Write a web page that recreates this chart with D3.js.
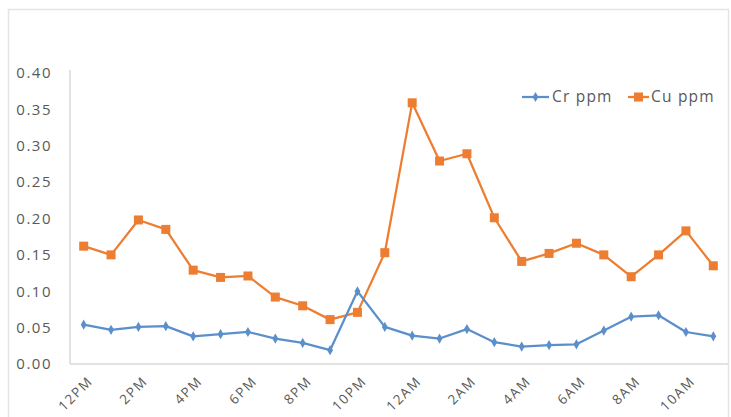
<!DOCTYPE html>
<html>
<head>
<meta charset="utf-8">
<script src="https://cdn.jsdelivr.net/npm/d3@7"></script>
<style>
  html, body { margin: 0; padding: 0; background: #fff; }
  svg { display: block; }
  .lbl { font-family: "Open Sans", sans-serif; fill: #595959; }
</style>
</head>
<body>
<svg id="chart" width="731" height="417"></svg>
<script>
// Hourly readings, noon to 11 AM next day
const hours = ["12PM","1PM","2PM","3PM","4PM","5PM","6PM","7PM","8PM","9PM","10PM","11PM",
               "12AM","1AM","2AM","3AM","4AM","5AM","6AM","7AM","8AM","9AM","10AM","11AM"];
const crPpm = [0.054,0.047,0.051,0.052,0.038,0.041,0.044,0.035,0.029,0.019,0.100,0.051,
               0.039,0.035,0.048,0.030,0.024,0.026,0.027,0.046,0.065,0.067,0.044,0.038];
const cuPpm = [0.162,0.150,0.198,0.185,0.129,0.119,0.121,0.092,0.080,0.061,0.071,0.153,
               0.359,0.279,0.289,0.201,0.141,0.152,0.166,0.150,0.120,0.150,0.183,0.135];
const yTicks = [0,0.05,0.10,0.15,0.20,0.25,0.30,0.35,0.40];
const seriesNames = ["Cr ppm","Cu ppm"];
const seriesColors = ["#5b8fcb","#ed7d31"];

const svg = d3.select("#chart");

// chart frame
svg.append("rect")
  .attr("x", 8.5).attr("y", 9.5).attr("width", 720).attr("height", 430)
  .attr("fill", "none").attr("stroke", "#e4e4e4").attr("stroke-width", 1.5);

const x = d3.scaleBand().domain(hours).range([70, 727]).padding(0);
const y = d3.scaleLinear().domain([0, 0.4]).range([364, 73]);

// axis lines
svg.append("line").attr("x1", 70).attr("x2", 70).attr("y1", 70).attr("y2", 364)
  .attr("stroke", "#d9d9d9").attr("stroke-width", 1.5);
svg.append("line").attr("x1", 70).attr("x2", 728).attr("y1", 364).attr("y2", 364)
  .attr("stroke", "#d9d9d9").attr("stroke-width", 1.5);

// y tick labels
const yAxis = svg.append("g").attr("transform", "translate(70,0)")
  .call(d3.axisLeft(y).tickValues(yTicks).tickFormat(d3.format(".2f")).tickSize(0).tickPadding(18));
yAxis.select(".domain").remove();
yAxis.selectAll("text")
  .attr("class", "lbl")
  .style("font-size", "15px")
  .style("letter-spacing", "1.5px")
  .attr("fill", "#595959");

// x tick labels, every other hour, slanted
const xAxis = svg.append("g").attr("transform", "translate(0,364)")
  .call(d3.axisBottom(x).tickValues(hours.filter((d, i) => i % 2 === 0)).tickSize(0).tickFormat(d => d));
xAxis.select(".domain").remove();
xAxis.selectAll("text")
  .attr("class", "lbl")
  .style("font-size", "13.5px")
  .style("letter-spacing", "1.6px")
  .attr("fill", "#595959")
  .attr("text-anchor", "end")
  .attr("dy", null)
  .attr("y", 0)
  .attr("transform", "translate(10,18) rotate(-45)");

const line = d3.line().x((d, i) => x(hours[i]) + x.bandwidth() / 2).y(d => y(d));

// Cu series
svg.append("path").datum(cuPpm)
  .attr("d", line).attr("fill", "none")
  .attr("stroke", seriesColors[1]).attr("stroke-width", 2.25).attr("stroke-linejoin", "round");
svg.append("g").selectAll("rect").data(cuPpm).join("rect")
  .attr("x", (d, i) => x(hours[i]) + x.bandwidth() / 2 - 4.5)
  .attr("y", d => y(d) - 4.5)
  .attr("width", 9).attr("height", 9)
  .attr("fill", seriesColors[1]);

// Cr series
svg.append("path").datum(crPpm)
  .attr("d", line).attr("fill", "none")
  .attr("stroke", seriesColors[0]).attr("stroke-width", 2.25).attr("stroke-linejoin", "round");
const diamond = d3.symbol().type(d3.symbolDiamond).size(30);
svg.append("g").selectAll("path").data(crPpm).join("path")
  .attr("d", diamond)
  .attr("transform", (d, i) => `translate(${x(hours[i]) + x.bandwidth() / 2},${y(d)})`)
  .attr("fill", seriesColors[0]);

// legend
const legend = svg.append("g");
const legendItems = [
  { name: seriesNames[0], color: seriesColors[0], x0: 522, x1: 549, tx: 552, marker: "diamond" },
  { name: seriesNames[1], color: seriesColors[1], x0: 628, x1: 649, tx: 651, marker: "square" }
];
const ly = 97;
legendItems.forEach(it => {
  legend.append("line").attr("x1", it.x0).attr("x2", it.x1).attr("y1", ly).attr("y2", ly)
    .attr("stroke", it.color).attr("stroke-width", 2.25);
  const cx = (it.x0 + it.x1) / 2;
  if (it.marker === "square") {
    legend.append("rect").attr("x", cx - 4.5).attr("y", ly - 4.5).attr("width", 9).attr("height", 9).attr("fill", it.color);
  } else {
    legend.append("path").attr("d", diamond).attr("transform", `translate(${cx},${ly})`).attr("fill", it.color);
  }
  legend.append("text").attr("class", "lbl")
    .attr("x", it.tx).attr("y", ly).attr("dy", "0.35em")
    .style("font-size", "15.5px").style("letter-spacing", "1.2px")
    .text(it.name);
});
</script>
</body>
</html>
